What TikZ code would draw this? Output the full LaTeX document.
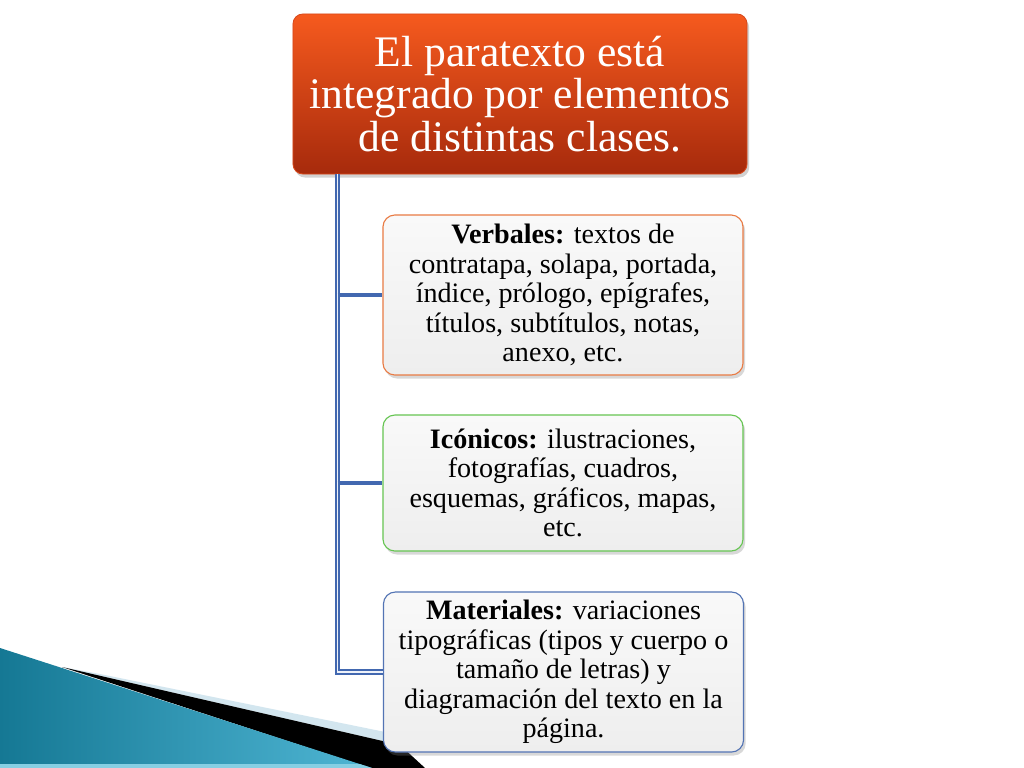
\documentclass[tikz,border=0pt]{standalone}
\usepackage{fontspec}
\setmainfont{Liberation Serif}
\usetikzlibrary{shadows,calc}
\definecolor{topO}{HTML}{F65A1E}
\definecolor{topR}{HTML}{A62A0C}
\definecolor{topEdge}{HTML}{D8481A}
\definecolor{orangeB}{HTML}{E97B44}
\definecolor{greenB}{HTML}{66C552}
\definecolor{blueB}{HTML}{5374B4}
\definecolor{connB}{HTML}{4268B0}
\definecolor{connIn}{HTML}{EEF2FA}
\definecolor{tealD}{HTML}{157894}
\definecolor{tealL}{HTML}{4FB6D4}
\definecolor{tealStrip}{HTML}{86CFE3}
\definecolor{paleBlue}{HTML}{D3E6EF}
\definecolor{subTop}{HTML}{F9F9F9}
\definecolor{subBot}{HTML}{EEEEEE}
\tikzset{
  topbox/.style={rounded corners=0.25cm, top color=topO, bottom color=topR,
    draw=topEdge, line width=0.6pt, minimum width=11.35cm, minimum height=4cm,
    align=center, text=white, font=\fontsize{31}{30}\selectfont, inner sep=0pt,
    drop shadow={shadow xshift=1.5pt, shadow yshift=-2.5pt, opacity=0.35}},
  subbox/.style={rounded corners=0.3cm, top color=subTop, bottom color=subBot,
    line width=0.8pt, minimum width=9cm, align=center, text=black,
    font=\fontsize{20}{21}\selectfont, inner sep=0pt,
    drop shadow={shadow xshift=1.5pt, shadow yshift=-2.5pt, opacity=0.3}},
  connout/.style={draw=connB, line width=3.6pt},
  connin/.style={draw=connIn, line width=1pt},
  branch/.style={draw=connB, line width=3pt}
}
\begin{document}
\begin{tikzpicture}[x=0.025cm,y=-0.025cm]
\useasboundingbox[fill=white] (0,0) rectangle (1024,768);
% bottom-left decoration
\fill[paleBlue] (100,674) -- (400,735) -- (400,745) -- (62,667) -- cycle;
\fill[black] (62,667) -- (400,745) -- (425,768) -- (370,768) -- cycle;
\shade[left color=tealD, right color=tealL] (0,648) -- (372,768) -- (0,768) -- cycle;
\fill[tealStrip] (0,764) -- (359.6,764) -- (372,768) -- (0,768) -- cycle;
% nodes
\node[topbox] (top) at (520,94) {El paratexto está\\integrado por elementos\\de distintas clases.};
\node[subbox, draw=orangeB, minimum height=4cm] (verb) at (563,295)
  {\textbf{Verbales:} textos de\\contratapa, solapa, portada,\\índice, prólogo, epígrafes,\\títulos, subtítulos, notas,\\anexo, etc.};
\node[subbox, draw=greenB, minimum height=3.4cm] (icon) at (563,483)
  {\textbf{Icónicos:} ilustraciones,\\fotografías, cuadros,\\esquemas, gráficos, mapas,\\etc.};
\node[subbox, draw=blueB, minimum height=4cm] (mat) at (563.5,672)
  {\textbf{Materiales:} variaciones\\tipográficas (tipos y cuerpo o\\tamaño de letras) y\\diagramación del texto en la\\página.};
% connectors
\coordinate (trunk) at ($(top.south west)+(45,0)$);
\draw[connout] (trunk) |- (mat.west);
\draw[connin] (trunk) |- (mat.west);
\draw[branch] (trunk |- verb.west) -- (verb.west);
\draw[branch] (trunk |- icon.west) -- (icon.west);
\end{tikzpicture}
\end{document}
